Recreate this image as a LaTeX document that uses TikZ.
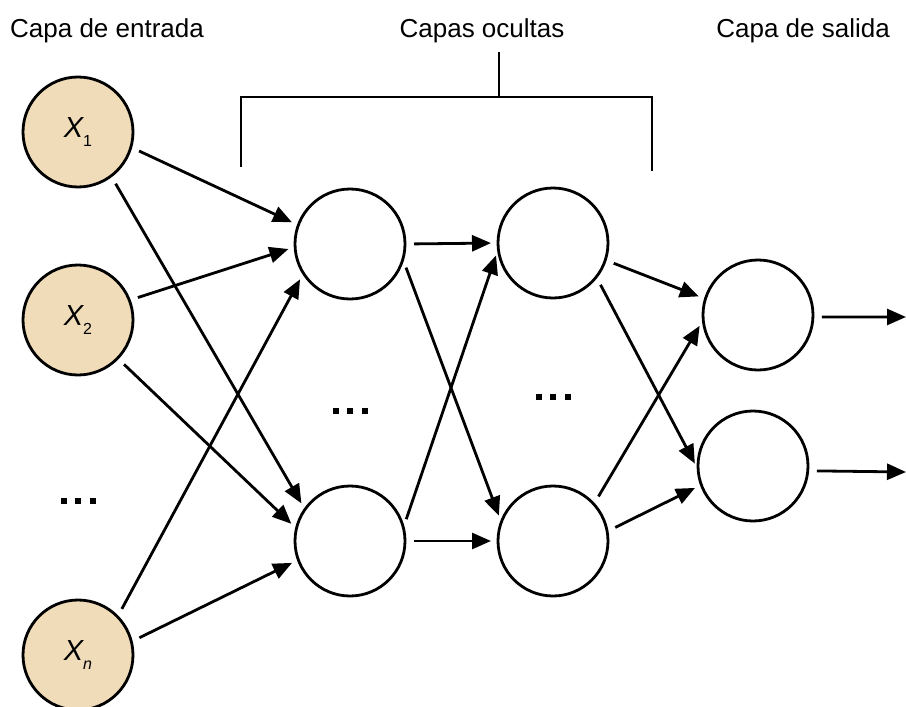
\documentclass[tikz,border=0pt]{standalone}
\usepackage{fontspec}
\setmainfont{Liberation Sans}
\usetikzlibrary{arrows.meta}
\definecolor{inputfill}{RGB}{240,220,185}
\newcommand{\neuronlabel}[1]{{\itshape X}\raisebox{-9pt}{\fontsize{16}{16}\selectfont #1}}
\begin{document}
\begin{tikzpicture}[x=1pt,y=-1pt,
  neuron/.style={circle,draw=black,line width=2.8pt,minimum size=110pt,inner sep=0pt,outer sep=0pt,fill=white,
    font=\fontsize{29}{30}\selectfont},
  inputneuron/.style={neuron,fill=inputfill},
  title/.style={font=\fontsize{26}{30}\selectfont,inner sep=0pt,anchor=base},
  link/.style={line width=2.8pt,-{Triangle[length=19pt,width=16pt]},shorten <=9pt,shorten >=7pt},
  brace/.style={line width=2.2pt},
  ellipsis/.pic={\fill (-17,-3) rectangle ++(6,6);
                 \fill (-3,-3) rectangle ++(6,6);
                 \fill (12,-3) rectangle ++(6,6);}
]
\useasboundingbox (0,0) rectangle (906,707);

% layer titles
\node[title,anchor=base west] (tin) at (10,37) {Capa de entrada};
\node[title] (thid) at (482,37) {Capas ocultas};
\node[title,anchor=base east] (tout) at (890,37) {Capa de salida};

% bracket over the hidden layers
\coordinate (bl) at (241,167);
\coordinate (br) at (652,171);
\coordinate (bt) at (499,52);
\draw[brace] (bl) -- (241,97) -- (652,97) -- (br);
\draw[brace] (bt) -- (499,97);

% input layer
\node[inputneuron] (x1) at (78,132) {\neuronlabel{1}};
\node[inputneuron] (x2) at (78,320) {\neuronlabel{2}};
\node[inputneuron] (xn) at (78,655) {\neuronlabel{\itshape n}};
\pic at (78,501) {ellipsis};

% hidden layers
\node[neuron] (a) at (350,244) {};
\node[neuron] (b) at (350,541) {};
\node[neuron] (c) at (553,243) {};
\node[neuron] (d) at (553,541) {};
\pic at (350,411) {ellipsis};
\pic at (553,397) {ellipsis};

% output layer
\node[neuron] (o1) at (758,315) {};
\node[neuron] (o2) at (753,466) {};
\coordinate (y1) at (906,317);
\coordinate (y2) at (906,472);

% input -> first hidden layer
\draw[link] (x1.-16) -- (a.160);
\draw[link] (x1.-53) -- (b.145);
\draw[link] (x2.21) -- (a.183);
\draw[link] (x2.-44) -- (b.167);
\draw[link] (xn.44) -- (a.212);
\draw[link] (xn.14) -- (b.200);

% first -> second hidden layer
\draw[link] (a.0) -- (c.180);
\draw[link] (a.-16) -- (d.160);
\draw[link] (b.14) -- (c.186);
\draw[link] (b.0) -- (d.180);

% second hidden -> output layer
\draw[link] (c.-18) -- (o1.163);
\draw[link] (c.-38) -- (o2.184);
\draw[link] (d.42) -- (o1.185);
\draw[link] (d.10) -- (o2.200);

% outputs
\draw[link,shorten >=0pt] (o1.-2) -- (y1);
\draw[link,shorten >=0pt] (o2.-5) -- (y2);
\end{tikzpicture}
\end{document}
